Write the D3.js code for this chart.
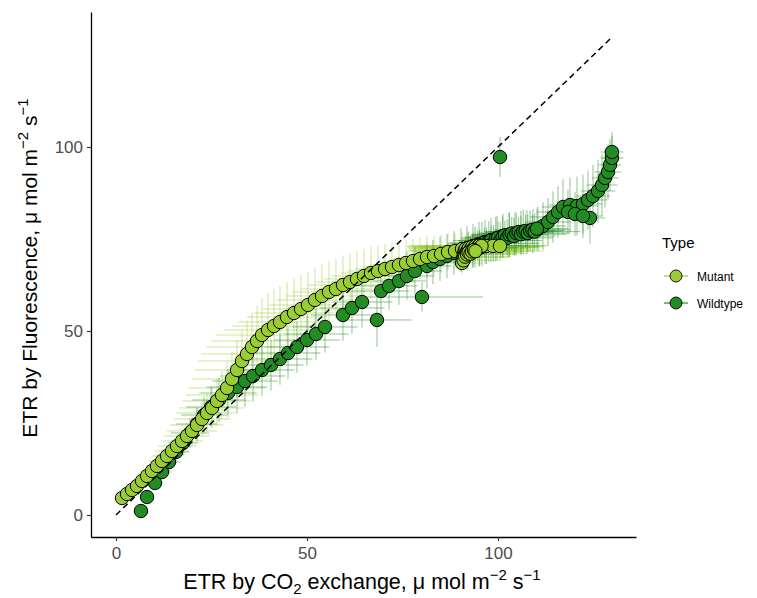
<!DOCTYPE html>
<html><head><meta charset="utf-8">
<script src="https://cdn.jsdelivr.net/npm/d3@7"></script>
<style>body{margin:0;background:#fff} svg{display:block;font-family:"Liberation Sans",Arial,sans-serif}</style>
</head><body><svg id="c" width="757" height="598"></svg>
<script>
// ---------- data ----------
const seriesNames = ["Mutant", "Wildtype"];
const seriesColors = ["#9ACD32", "#228B22"];
const xTicks = [0, 50, 100];
const yTicks = [0, 50, 100];
const oneToOne = [0, 130];

const mutX = [1.57,2.88,4.19,5.50,6.81,8.12,9.42,10.73,12.04,13.35,14.66,15.97,17.28,18.59,19.90,21.20,22.51,23.82,25.13,26.44,27.75,29.06,30.37,31.68,32.98,34.29,35.60,36.91,38.22,39.79,41.36,42.93,44.76,46.60,48.43,50.26,52.09,53.93,55.76,57.59,59.42,61.26,63.09,64.92,66.75,68.59,70.42,72.25,74.08,75.92,77.75,79.58,81.41,83.25,85.08,86.91,88.74,90.58,92.15,93.72,95.29,96.86,98.69,100.52,90.58,
  90.9,91.1,91.3,91.5,91.8,92.1,92.4,92.7,93.0,93.3,93.6,93.9,94.2,94.5,94.8,95.1,95.4,95.7,91.0,91.4,91.9,92.3,92.8,93.2,93.7,94.1];
const mutY = [4.62,5.71,6.79,7.88,9.24,10.60,11.96,13.32,14.67,16.03,17.39,18.75,20.11,21.47,22.83,24.46,26.09,27.72,29.08,30.98,32.61,34.51,36.96,39.40,41.85,43.75,45.65,47.28,48.91,50.27,51.36,52.45,53.80,54.89,55.98,57.07,58.42,59.51,60.60,61.41,62.50,63.32,64.13,64.95,65.76,66.30,66.85,67.39,67.93,68.48,69.02,69.57,70.11,70.38,70.92,71.47,71.74,72.28,72.55,72.83,73.10,73.10,73.10,73.10,68.48,
  70.0,71.0,71.8,72.3,71.5,72.0,72.6,71.9,72.4,72.9,72.3,72.7,73.1,72.6,72.9,73.2,72.8,73.1,69.2,70.2,70.8,71.3,71.0,71.6,72.0,71.7];
const mutXErr = [0.8,1.0,1.2,1.5,1.8,2.2,2.6,3.0,3.5,4.0,4.5,5.0,5.5,6.0,6.5,7.0,7.5,8.0,8.5,9.0,9.5,10.0,10.5,11.0,11.5,12.0,12.0,12.0,12.0,11.5,11.0,11.0,10.5,10.5,10.0,10.0,10.0,9.5,9.5,9.0,9.0,9.0,8.5,8.5,8.0,8.0,8.0,7.5,7.5,7.0,7.0,7.0,7.0,6.5,6.5,6.5,6.0,8.0,12.0,14.0,15.0,14.0,10.0,6.0,5.0,
  12.0,13.0,14.0,15.0,12.0,14.0,16.0,13.0,15.0,17.0,14.0,16.0,18.0,15.0,17.0,18.0,16.0,17.0,10.0,12.0,13.0,14.0,15.0,16.0,17.0,18.0];
const mutYErr = [0.8,1.0,1.0,1.2,1.3,1.5,1.7,2.0,2.2,2.5,2.8,3.0,3.3,3.6,4.0,4.4,4.8,5.2,5.6,6.0,6.5,7.0,7.5,8.0,8.5,9.0,9.3,9.6,10.0,10.0,10.0,9.8,9.6,9.4,9.2,9.0,8.8,8.6,8.4,8.2,8.0,7.8,7.6,7.4,7.2,7.0,6.8,6.6,6.4,6.2,6.0,5.8,5.6,5.4,5.2,5.0,4.8,4.6,4.4,4.2,4.0,3.8,3.6,3.4,3.0,
  3.0,3.0,3.0,3.0,3.0,3.0,3.0,3.0,3.0,3.0,3.0,3.0,3.0,3.0,3.0,3.0,3.0,3.0,2.5,2.5,2.5,2.5,2.5,2.5,2.5,2.5];

const wtX = [6.54,8.12,10.21,12.04,13.87,15.71,17.54,19.37,21.20,23.04,24.87,26.96,29.32,31.68,33.77,35.86,38.22,40.58,42.93,45.03,47.38,50.00,52.36,54.71,59.42,61.78,64.40,68.32,69.37,71.47,74.08,76.18,78.27,80.10,81.41,82.98,84.82,86.65,88.48,90.31,91.88,93.46,95.03,96.60,98.17,99.74,101.31,102.88,104.45,106.02,107.59,109.16,110.47,111.78,113.09,114.40,115.71,117.02,118.85,120.68,122.25,123.56,124.87,126.18,127.23,128.01,128.80,129.32,129.84,129.84,124.08,118.32,120.16,122.25,100.52,
  91.0,91.6,92.2,92.8,93.4,94.0,94.6,95.2,95.8,96.4,97.0,97.6,98.2,98.8,99.4,100.0,100.6,101.2,101.8,102.4,103.0,103.6,104.2,104.8,105.4,106.0,106.6,107.2,107.8,108.4,109.0,109.6,110.2];
const wtY = [1.09,4.89,8.70,11.68,14.40,17.12,19.57,22.28,24.73,27.17,29.35,31.25,33.15,34.78,36.41,37.77,39.40,40.76,42.39,44.02,45.65,47.55,49.18,51.09,54.35,56.25,57.88,52.99,60.87,62.23,63.59,64.95,66.30,59.24,67.66,68.75,69.57,70.38,71.20,72.01,72.55,73.10,73.64,74.18,74.73,75.27,75.82,76.09,76.36,76.63,76.90,77.17,77.72,78.53,79.62,80.98,82.34,83.70,84.24,83.97,84.51,85.60,86.68,88.04,89.67,91.58,93.21,95.11,97.01,98.64,80.71,82.34,81.79,81.25,97.28,
  71.0,71.6,72.0,72.4,72.0,72.8,73.3,72.6,73.6,74.0,73.2,74.3,74.6,73.8,75.0,75.3,74.6,75.6,76.0,75.3,76.2,76.5,75.8,76.6,76.9,76.3,77.0,77.2,76.6,77.3,77.5,77.0,77.8];
const wtXErr = [1.0,1.5,2.0,2.5,3.0,3.5,4.0,5.0,5.5,6.0,6.5,7.0,7.5,8.0,8.5,8.5,8.5,8.5,8.5,8.5,8.5,8.5,8.5,8.5,8.5,8.5,8.0,9.0,7.5,7.5,7.0,7.0,7.0,16.0,6.5,6.5,6.5,6.0,6.0,6.0,6.0,6.0,6.0,6.0,6.0,6.0,6.0,6.0,6.0,6.0,6.0,6.0,6.0,6.0,6.0,6.0,5.5,5.5,5.5,5.5,5.0,5.0,4.5,4.5,4.0,3.5,3.5,3.0,3.0,3.0,4.0,6.0,6.0,5.0,1.0,
  6.0,7.0,8.0,6.0,9.0,7.0,8.0,10.0,7.0,9.0,11.0,8.0,10.0,12.0,9.0,8.0,11.0,10.0,9.0,12.0,10.0,8.0,11.0,10.0,9.0,12.0,10.0,8.0,11.0,9.0,10.0,12.0,8.0];
const wtYErr = [0.5,1.0,1.5,2.0,2.5,3.0,3.5,4.0,4.5,5.0,5.5,6.0,6.5,7.0,7.0,7.0,7.0,7.0,7.0,7.0,7.0,7.0,7.0,7.0,7.0,7.0,7.0,7.3,6.5,6.5,6.5,6.5,6.5,4.0,6.0,6.0,6.0,6.0,6.0,6.0,6.0,6.0,6.0,6.0,6.0,6.0,6.0,6.0,6.0,6.0,6.0,6.0,6.0,6.5,6.5,7.0,7.0,7.5,7.5,8.0,8.0,8.0,8.5,8.5,8.5,8.0,7.5,7.0,6.0,5.5,7.0,6.0,6.0,6.0,5.4,
  3.0,4.0,5.0,3.5,4.5,5.5,4.0,5.0,6.0,4.0,5.0,5.5,4.0,5.0,6.0,4.5,5.0,5.5,4.0,5.0,6.0,4.5,5.0,5.5,4.0,5.0,6.0,4.5,5.0,5.5,4.0,5.0,5.5];

// ---------- layout ----------
const svg = d3.select("#c");
const x = d3.scaleLinear().domain([-6.545, 136.13]).range([91, 636]);
const y = d3.scaleLinear().domain([-5.98, 136.68]).range([537, 12]);

svg.append("defs").append("clipPath").attr("id", "clip")
  .append("rect").attr("x", 91).attr("y", 12).attr("width", 545).attr("height", 525);
const plot = svg.append("g").attr("clip-path", "url(#clip)");

function makeSeries(xs, ys, xe, ye) {
  return xs.map((v, i) => ({x: v, y: ys[i], xe: xe[i], ye: ye[i]}));
}
const series = [
  makeSeries(mutX, mutY, mutXErr, mutYErr),
  makeSeries(wtX, wtY, wtXErr, wtYErr)
];
const barOpacity = [0.5, 0.5];

// error bars: mutant then wildtype
[0, 1].forEach(si => {
  const g = plot.append("g").attr("stroke", seriesColors[si]).attr("stroke-opacity", barOpacity[si]).attr("stroke-width", 1);
  g.selectAll("line.v").data(series[si]).join("line").attr("class", "v")
    .attr("x1", d => x(d.x)).attr("x2", d => x(d.x))
    .attr("y1", d => y(d.y - d.ye)).attr("y2", d => y(d.y + d.ye));
  g.selectAll("line.h").data(series[si]).join("line").attr("class", "h")
    .attr("y1", d => y(d.y)).attr("y2", d => y(d.y))
    .attr("x1", d => x(d.x - d.xe)).attr("x2", d => x(d.x + d.xe));
});

// points: wildtype below, mutant above
[1, 0].forEach(si => {
  plot.append("g").selectAll("circle").data(series[si]).join("circle")
    .attr("cx", d => x(d.x)).attr("cy", d => y(d.y)).attr("r", 6.7)
    .attr("fill", seriesColors[si]).attr("stroke", "#000").attr("stroke-width", 1);
});

// 1:1 dashed line
plot.append("line")
  .attr("x1", x(oneToOne[0])).attr("y1", y(oneToOne[0]))
  .attr("x2", x(oneToOne[1])).attr("y2", y(oneToOne[1]))
  .attr("stroke", "#000").attr("stroke-width", 1.5).attr("stroke-dasharray", "6,4");

// axes
const xAxis = svg.append("g").attr("transform", "translate(0,537)")
  .call(d3.axisBottom(x).tickValues(xTicks).tickSize(4).tickSizeOuter(0).tickPadding(6));
const yAxis = svg.append("g").attr("transform", "translate(91,0)")
  .call(d3.axisLeft(y).tickValues(yTicks).tickSize(4).tickSizeOuter(0).tickPadding(4));
[xAxis, yAxis].forEach(a => {
  a.select(".domain").attr("stroke", "#000").attr("stroke-width", 1.3);
  a.selectAll(".tick line").attr("stroke", "#333").attr("stroke-width", 1.1);
  a.selectAll(".tick text").attr("fill", "#4D4D4D").style("font-size", "17px")
    .style("font-family", "'Liberation Sans', Arial, sans-serif");
});

// axis titles
const xt = svg.append("text").attr("x", 362).attr("y", 589).attr("text-anchor", "middle")
  .style("font-size", "21.5px").attr("fill", "#000");
xt.append("tspan").text("ETR by CO");
xt.append("tspan").text("2").attr("dy", 5).style("font-size", "15px");
xt.append("tspan").text(" exchange, μ mol m").attr("dy", -5);
xt.append("tspan").text("−2").attr("dy", -9).style("font-size", "15px");
xt.append("tspan").text(" s").attr("dy", 9);
xt.append("tspan").text("−1").attr("dy", -9).style("font-size", "15px");

const yt = svg.append("text").attr("transform", "translate(37,268) rotate(-90)").attr("text-anchor", "middle")
  .style("font-size", "21px").attr("fill", "#000");
yt.append("tspan").text("ETR by Fluorescence, μ mol m");
yt.append("tspan").text("−2").attr("dy", -9).style("font-size", "15px");
yt.append("tspan").text(" s").attr("dy", 9);
yt.append("tspan").text("−1").attr("dy", -9).style("font-size", "15px");

// legend
const leg = svg.append("g");
leg.append("text").attr("x", 662).attr("y", 248).text("Type").style("font-size", "15px").attr("fill", "#000");
seriesNames.forEach((n, i) => {
  const cy = 276 + i * 27;
  leg.append("line").attr("x1", 664).attr("x2", 688).attr("y1", cy).attr("y2", cy)
    .attr("stroke", seriesColors[i]).attr("stroke-width", 1.2);
  leg.append("circle").attr("cx", 676).attr("cy", cy).attr("r", 6)
    .attr("fill", seriesColors[i]).attr("stroke", "#000").attr("stroke-width", 0.9);
  leg.append("text").attr("x", 697).attr("y", cy + 4.5).text(n).style("font-size", "12px").attr("fill", "#000");
});
</script></body></html>
